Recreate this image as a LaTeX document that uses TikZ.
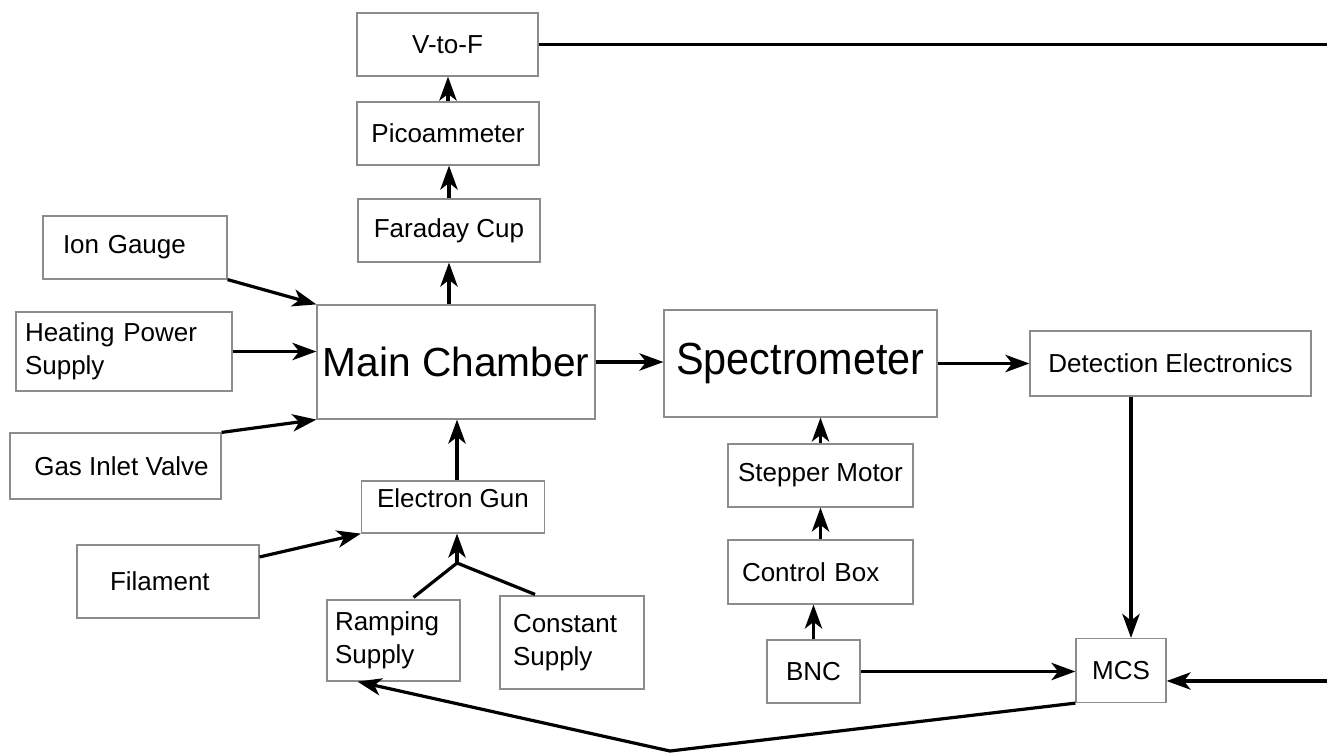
\documentclass[tikz,border=0pt]{standalone}
\usepackage{fontspec}
\setmainfont{Liberation Sans}
\usetikzlibrary{arrows.meta,calc}

\tikzset{
  box/.style={draw=black!45, line width=0.9pt, inner sep=0pt,
    font=\fontsize{19.5}{25}\selectfont, align=center},
  wh/.style n args={2}{minimum width=#1*0.75pt, minimum height=#2*0.75pt},
  pad/.style n args={2}{align=left, inner xsep=#1*0.75pt, text width=#2*0.75pt},
  wire/.style={line width=2.4pt},
  arr/.style={wire, -{Stealth[length=18pt,width=13pt,inset=5pt]}},
}

\begin{document}
\begin{tikzpicture}[x=0.75pt,y=-0.75pt]
% canvas
\fill[white] (0,0) rectangle (1327,753);
\useasboundingbox (0,0) rectangle (1327,753);

% blocks
\node[box, wh={181}{63}] (vtof)    at (447.5,44.5)  {V-to-F};
\node[box, wh={182}{63}] (pico)    at (448,133.5)   {Picoammeter};
\node[box, wh={182}{63}] (faraday) at (449,230.5)   {Faraday Cup};
\node[box, wh={278}{114}, font=\fontsize{30.5}{34}\selectfont] (main) at (456,362) {Main Chamber};
\node[box, wh={184}{63}, pad={20}{144}]  (ion)  at (135,247.5) {Ion Gauge};
\node[box, wh={216}{79}, pad={9}{198}]   (heat) at (124,351.5) {Heating Power\\Supply};
\node[box, wh={211}{66}]  (gas)  at (115.5,466) {\hspace*{9pt}Gas Inlet Valve};
\node[box, wh={183}{52}, text depth=13.5pt] (egun) at (453,507) {Electron Gun};
\node[box, wh={182}{73}, pad={33}{116}]  (fil)  at (168,581.5) {Filament};
\node[box, wh={133}{81}, pad={8}{117}]   (ramp) at (393.5,640.5) {Ramping\\Supply};
\node[box, wh={144}{93}, pad={13}{118}]  (const) at (572,642.5) {Constant\\Supply};
\node[box, wh={273}{107}, font=\fontsize{33.75}{36}\selectfont] (spec) at (800.5,363.5) {\scalebox{0.92}[1]{Spectrometer}};
\node[box, wh={281}{65}] (det)  at (1170.5,363.5) {Detection Electronics};
\node[box, wh={185}{63}] (step) at (820.5,475.5)  {Stepper Motor};
\node[box, wh={185}{64}, pad={14}{157}] (ctrl) at (820.5,572) {Control Box};
\node[box, wh={93}{63}]  (bnc)  at (813.5,671.5)  {BNC};
\node[box, wh={90}{64}]  (mcs)  at (1121,670.5)   {MCS};

% free ends and junctions
\coordinate (vfEnd) at (1327,0);
\coordinate (rEnd)  at (1327,681);
\coordinate (dm)    at (1131,0);
\coordinate (J)     at (457,563);
\coordinate (V)     at (670,751);

% upper chain
\draw[wire] (vtof.east) -- (vtof.east -| vfEnd);
\draw[arr] (pico.north) -- (pico.north |- vtof.south);
\draw[arr] (faraday.north) -- (faraday.north |- pico.south);
\draw[arr] (faraday.south |- main.north) -- (faraday.south);

% inputs to the main chamber
\draw[arr] (ion.south east) -- (main.north west);
\draw[arr] (heat.east) -- (heat.east -| main.west);
\draw[arr] (gas.north east) -- (main.south west);
\draw[arr] (egun.north -| J) -- (J |- main.south);
\draw[arr] (fil.15) -- (egun.south west);
\draw[wire] ($(ramp.north)+(20,-2)$) -- (J) -- ($(const.north)+(-37,-1)$);
\draw[arr] (J) -- (J |- egun.south);

% spectrometer chain
\draw[arr] (main.east) -- (main.east -| spec.west);
\draw[arr] (spec.east |- det.west) -- (det.west);
\draw[arr] (det.south -| dm) -- (mcs.north -| dm);
\draw[arr] (step.north) -- (step.north |- spec.south);
\draw[arr] (ctrl.north) -- (ctrl.north |- step.south);
\draw[arr] (bnc.north) -- (bnc.north |- ctrl.south);
\draw[arr] (bnc.east) -- (bnc.east -| mcs.west);
\draw[arr] (rEnd) -- (rEnd -| mcs.east);
\draw[arr] (mcs.south west) -- (V) -- ($(ramp.south)+(-36,0)$);
\end{tikzpicture}
\end{document}
